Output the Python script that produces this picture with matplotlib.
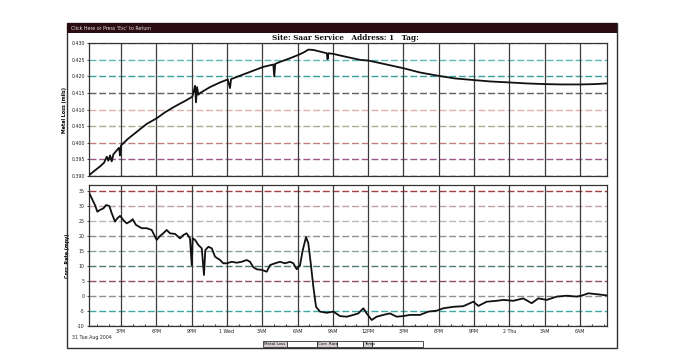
import matplotlib
matplotlib.use('Agg')
import matplotlib.pyplot as plt
from matplotlib.patches import Rectangle

W, H = 678, 357

# time axis: hours counted from 00:00 on Tue 31 Aug 2004
loss_t = [12.31, 12.79, 13.22, 13.56, 13.79, 13.92, 14.07, 14.21, 14.35, 14.58,
          14.83, 14.92, 15.00, 15.17, 15.59, 16.33, 17.18, 18.03, 18.74, 19.44,
          20.58, 21.06, 21.29, 21.37, 21.46, 21.57, 21.71, 22.56, 23.41, 24.07,
          24.26, 24.35, 25.68, 27.09, 27.94, 28.02, 28.10, 28.51, 29.36, 30.07,
          30.55, 30.91, 31.34, 31.91, 32.48, 32.55, 32.62, 33.04, 34.03, 35.31,
          36.02, 37.44, 38.98, 40.40, 41.97, 43.39, 45.03, 46.37, 48.00, 49.50,
          51.03, 52.47, 54.00, 55.27, 56.27]
loss_v = [0.3903, 0.3917, 0.3929, 0.3940, 0.3958, 0.3946, 0.3962, 0.3944, 0.3965, 0.3975,
          0.3985, 0.3962, 0.3992, 0.3998, 0.4012, 0.4033, 0.4057, 0.4074, 0.4092, 0.4107,
          0.4129, 0.4139, 0.4172, 0.4122, 0.4168, 0.4145, 0.4150, 0.4168, 0.4182, 0.4191,
          0.4165, 0.4192, 0.4210, 0.4229, 0.4236, 0.4200, 0.4238, 0.4244, 0.4255, 0.4265,
          0.4273, 0.4281, 0.4280, 0.4275, 0.4270, 0.4252, 0.4270, 0.4268, 0.4260, 0.4250,
          0.4248, 0.4237, 0.4225, 0.4212, 0.4202, 0.4194, 0.4189, 0.4185, 0.4182, 0.4179,
          0.4177, 0.4176, 0.4176, 0.4177, 0.4179]

rate_t = [12.31, 12.51, 12.79, 12.99, 13.22, 13.50, 13.73, 14.01, 14.21, 14.49,
          14.69, 14.92, 15.20, 15.48, 15.76, 15.99, 16.27, 16.76, 17.18, 17.61,
          18.03, 18.31, 18.59, 18.88, 19.16, 19.59, 20.01, 20.29, 20.58, 20.86,
          21.01, 21.09, 21.29, 21.57, 21.86, 22.05, 22.16, 22.42, 22.71, 22.99,
          23.41, 23.69, 23.98, 24.41, 24.83, 25.25, 25.68, 25.96, 26.24, 26.53,
          26.95, 27.38, 27.66, 28.08, 28.51, 28.93, 29.36, 29.64, 29.93, 30.21,
          30.44, 30.72, 30.91, 31.12, 31.34, 31.57, 31.91, 32.48, 33.04, 33.61,
          34.18, 34.74, 35.16, 35.59, 35.87, 36.30, 36.72, 37.29, 37.85, 38.42,
          38.98, 39.55, 40.40, 41.11, 41.82, 42.38, 43.23, 44.08, 44.65, 44.93,
          45.36, 46.07, 46.92, 47.48, 48.33, 49.18, 49.89, 50.45, 51.17, 52.02,
          52.87, 53.72, 54.28, 54.70, 55.42, 56.27]
rate_v = [34.2, 32.6, 30.3, 28.1, 28.7, 29.2, 30.3, 30.0, 27.6, 24.8,
          25.9, 26.7, 25.3, 24.2, 24.8, 25.6, 23.7, 22.6, 22.6, 22.0,
          18.7, 20.0, 20.9, 22.0, 20.9, 20.7, 19.2, 20.3, 20.9, 19.2,
          10.3, 19.2, 18.7, 17.0, 15.9, 7.0, 15.3, 16.4, 15.9, 13.1,
          12.0, 10.9, 10.9, 11.4, 11.1, 11.4, 12.0, 11.4, 9.6, 8.9,
          8.7, 8.1, 10.3, 10.9, 11.4, 10.9, 11.4, 10.9, 8.9, 10.3,
          15.3, 19.6, 17.6, 10.9, 3.1, -3.6, -5.2, -5.6, -5.2, -6.7,
          -6.9, -6.3, -5.8, -4.1, -5.8, -8.0, -6.9, -6.3, -5.8, -6.9,
          -6.7, -6.3, -6.3, -5.2, -4.9, -4.1, -3.6, -3.4, -2.4, -1.9,
          -3.3, -1.9, -1.6, -1.3, -1.6, -0.8, -2.4, -0.8, -1.3, -0.2,
          0.1, -0.2, 0.3, 0.9, 0.6, 0.2]

xtick_hours = [15, 18, 21, 24, 27, 30, 33, 36, 39, 42, 45, 48, 51, 54]
xtick_labels = ['3PM', '6PM', '9PM', '1 Wed', '3AM', '6AM', '9AM',
                '12PM', '3PM', '6PM', '9PM', '2 Thu', '3AM', '6AM']
loss_ticks = [0.390, 0.395, 0.400, 0.405, 0.410, 0.415, 0.420, 0.425, 0.430]
rate_ticks = [-10, -5, 0, 5, 10, 15, 20, 25, 30, 35]

# scanned printout: grid rows come out in odd colours
loss_grid = ['#505050', '#9a5a8a', '#c08080', '#a8b090', '#e0b0b0',
             '#606060', '#3a9fa0', '#60b8b8', '#a8a8a8']
rate_grid = ['#505050', '#40a8a8', '#909090', '#905060', '#507878',
             '#8aa0a0', '#909090', '#b8b8b8', '#c0a0a0', '#a04040']

X_MIN, X_MAX = 12.28, 56.29


def box(x0, y0, x1, y1):
    """pixel box (top-left origin) -> figure fraction rect"""
    return [x0 / W, 1 - y1 / H, (x1 - x0) / W, (y1 - y0) / H]


fig = plt.figure(figsize=(W / 100, H / 100), dpi=100)
fig.patch.set_facecolor('white')

# screen frame + title bar
fig.patches.append(Rectangle((67 / W, 1 - 348 / H), 550 / W, 325 / H,
                             transform=fig.transFigure, fill=False,
                             edgecolor='#303030', lw=1.0))
fig.patches.append(Rectangle((67 / W, 1 - 33 / H), 550 / W, 10 / H,
                             transform=fig.transFigure, facecolor='#2a0c12',
                             edgecolor='none'))
fig.text(71 / W, 1 - 28 / H, "Click Here or Press 'Esc' to Return",
         fontsize=3.4, color='#e8e0e0', va='center')
fig.text(345 / W, 1 - 38.5 / H, 'Site: Saar Service   Address: 1   Tag:',
         fontsize=5.2, fontweight='bold', family='DejaVu Serif',
         ha='center', va='center', color='#111111')

ax_top = fig.add_axes(box(89, 43.3, 607, 176))
ax_bot = fig.add_axes(box(89, 185, 607, 326))

for ax, ticks, cols in ((ax_top, loss_ticks, loss_grid),
                        (ax_bot, rate_ticks, rate_grid)):
    ax.set_xlim(X_MIN, X_MAX)
    for v, c in zip(ticks, cols):
        ax.axhline(v, color=c, lw=1.0, ls=(0, (5, 2)), zorder=1)
    for h in xtick_hours:
        ax.axvline(h, color='#3c3c3c', lw=0.9, zorder=1)
    ax.set_yticks(ticks)
    ax.set_xticks(xtick_hours)
    ax.set_xticks(range(13, 57), minor=True)
    ax.tick_params(axis='y', labelsize=3.4, length=1.5, width=0.6, pad=1.5,
                   colors='#222222')
    ax.tick_params(axis='x', which='major', length=0, pad=2)
    ax.tick_params(axis='x', which='minor', length=1.5, width=0.7,
                   direction='in', colors='#333333')
    for s in ax.spines.values():
        s.set_color('#333333')
        s.set_linewidth(0.9)

ax_top.plot(loss_t, loss_v, color='#111111', lw=1.3, zorder=3)
ax_top.set_ylim(0.390, 0.430)
ax_top.set_yticklabels([f'{v:.3f}' for v in loss_ticks])
ax_top.set_xticklabels([])
ax_top.tick_params(axis='x', which='minor', length=0)
ax_top.set_ylabel('Metal Loss (mils)', fontsize=3.4, fontweight='bold',
                  labelpad=3)

ax_bot.plot(rate_t, rate_v, color='#111111', lw=1.3, zorder=3)
ax_bot.set_ylim(-10, 37)
ax_bot.set_yticklabels([str(v) for v in rate_ticks])
ax_bot.set_xticklabels(xtick_labels, fontsize=3.4, color='#222222')
ax_bot.set_ylabel('Corr. Rate (mpy)', fontsize=3.4, fontweight='bold',
                  labelpad=5)

fig.text(72 / W, 1 - 338 / H, '31 Tue Aug 2004', fontsize=3.4,
         color='#222222', va='center')

# legend strip along the bottom edge
legend_items = [('Metal Loss', 263, 287, 317), ('Corr. Rate', 317, 337, 363),
                ('Temp', 363, 372, 423)]
for name, x0, x1, x2 in legend_items:
    fig.patches.append(Rectangle((x0 / W, 1 - 347 / H), (x1 - x0) / W, 6 / H,
                                 transform=fig.transFigure,
                                 facecolor='#d8d0d0', edgecolor='#303030',
                                 lw=0.6))
    fig.patches.append(Rectangle((x1 / W, 1 - 347 / H), (x2 - x1) / W, 6 / H,
                                 transform=fig.transFigure,
                                 facecolor='white', edgecolor='#303030',
                                 lw=0.6))
    fig.text((x0 + 1) / W, 1 - 344 / H, name, fontsize=3.0, va='center',
             color='#111111')

fig.savefig('out.png', dpi=100)
